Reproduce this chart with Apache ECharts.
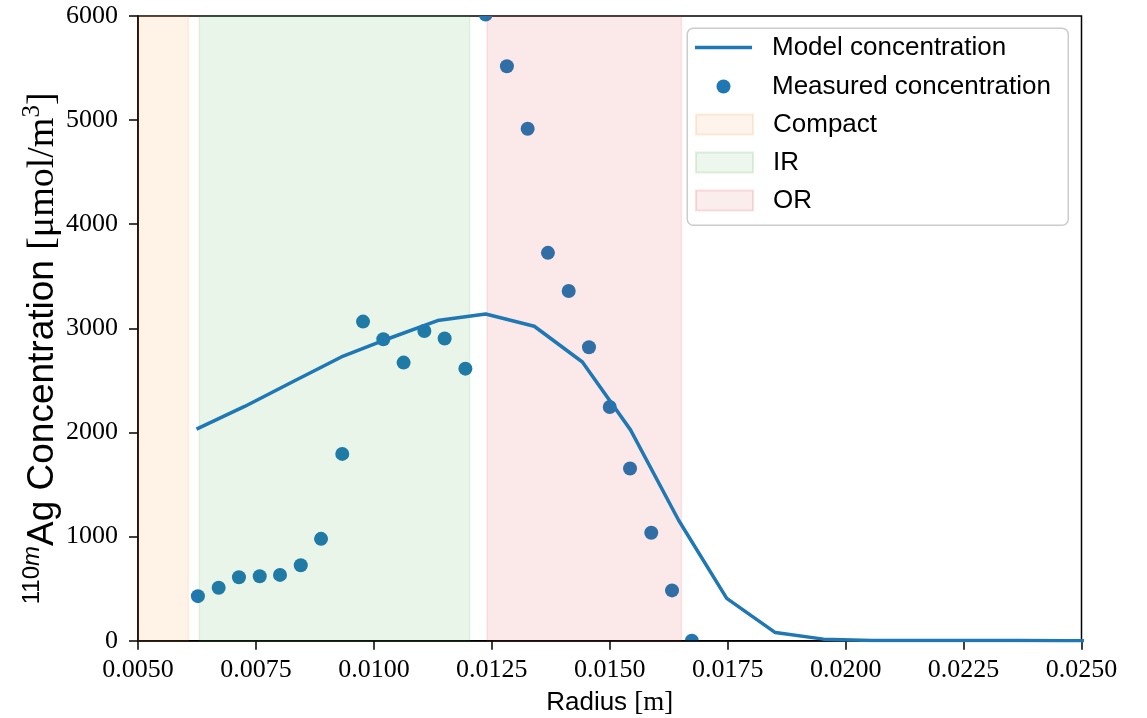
<!DOCTYPE html>
<html>
<head>
<meta charset="utf-8">
<script src="https://cdn.jsdelivr.net/npm/echarts@6/dist/echarts.min.js"></script>
<style>
  html, body { margin: 0; padding: 0; background: #ffffff; }
  #chart { width: 1147px; height: 718px; }
</style>
</head>
<body>
<div id="chart"></div>
<script>
// Measured 110mAg concentration across the pebble radius [m, µmol/m³]
const measuredRadius = [
  0.00627, 0.00671, 0.00714, 0.00758, 0.00801, 0.00845, 0.00888, 0.00933,
  0.00977, 0.01020, 0.01063, 0.01107, 0.01150, 0.01194, 0.01237, 0.01282,
  0.01326, 0.01369, 0.01413, 0.01456, 0.01500, 0.01543, 0.01588, 0.01632,
  0.01674
];
const measuredConc = [
  428, 509, 609, 619, 632, 725, 978, 1794,
  3065, 2896, 2671, 2975, 2902, 2613, 6015, 5518,
  4917, 3725, 3359, 2818, 2244, 1654, 1037, 483,
  0
];

// Model prediction on the radial mesh
const modelRadius = [
  0.00624, 0.00726, 0.00828, 0.00931, 0.01033, 0.01135, 0.01237, 0.01340,
  0.01442, 0.01544, 0.01646, 0.01748, 0.01851, 0.01953, 0.02055, 0.02157,
  0.02259, 0.02362, 0.02464, 0.02566
];
const modelConc = [
  2032, 2250, 2487, 2725, 2905, 3075, 3138, 3020,
  2677, 2025, 1157, 407, 78, 15, 3, 2,
  1, 1, 0, 0
];

// Pebble zones
const regionNames = ['Compact', 'IR', 'OR'];
const regionStart = [0.0050, 0.0063, 0.0124];
const regionEnd = [0.00607, 0.01203, 0.01652];
const regionColors = ['#ff7f0e', '#2ca02c', '#d62728'];

// Axis ticks
const xTicks = [0.0050, 0.0075, 0.0100, 0.0125, 0.0150, 0.0175, 0.0200, 0.0225, 0.0250];
const yTicks = [0, 1000, 2000, 3000, 4000, 5000, 6000];

const SANS = '"Liberation Sans", Arial, Helvetica, sans-serif';
const SERIF = '"Liberation Serif", "Times New Roman", serif';
const BLUE = '#1f77b4';

function rgba(hex, a) {
  const n = parseInt(hex.slice(1), 16);
  return 'rgba(' + ((n >> 16) & 255) + ',' + ((n >> 8) & 255) + ',' + (n & 255) + ',' + a + ')';
}

const measuredData = measuredRadius.map((r, i) => [r, measuredConc[i]]);
const modelData = modelRadius.map((r, i) => [r, modelConc[i]]);

const regionSeries = regionNames.map((name, i) => ({
  name: name,
  type: 'scatter',
  data: [],
  itemStyle: {
    color: rgba(regionColors[i], 0.1),
    borderColor: rgba(regionColors[i], 0.18),
    borderWidth: 1.5
  },
  markArea: {
    silent: true,
    itemStyle: {
      color: rgba(regionColors[i], 0.1),
      borderColor: rgba(regionColors[i], 0.1),
      borderWidth: 1.5
    },
    data: [[{ xAxis: regionStart[i] }, { xAxis: regionEnd[i] }]]
  }
}));

// Legend rows: one legend per row so each icon keeps its own size
const legendLeft = 695;
const legendRows = [
  { name: 'Model concentration', center: 47.5, w: 57, h: 3.5, icon: 'rect', left: legendLeft },
  { name: 'Measured concentration', center: 86.5, w: 57, h: 14, icon: 'circle', left: legendLeft + 21.5 },
  { name: 'Compact', center: 124.5, w: 57, h: 20, icon: 'rect', left: legendLeft },
  { name: 'IR', center: 162.5, w: 57, h: 20, icon: 'rect', left: legendLeft },
  { name: 'OR', center: 200.5, w: 57, h: 20, icon: 'rect', left: legendLeft }
];

const legends = legendRows.map(row => ({
  show: true,
  orient: 'vertical',
  left: row.left,
  top: row.center - 13,
  padding: 0,
  itemWidth: row.w,
  itemHeight: row.h,
  selectedMode: false,
  data: [{ name: row.name, icon: row.icon }],
  textStyle: {
    fontFamily: SANS,
    fontSize: 26,
    lineHeight: 26,
    color: '#000000',
    padding: [0, 0, 0, 15]
  }
}));

const option = {
  backgroundColor: '#ffffff',
  animation: false,
  grid: {
    left: 138,
    right: 65.5,
    top: 16,
    bottom: 77.3,
    show: true,
    borderColor: '#000000',
    borderWidth: 1.5,
    backgroundColor: 'transparent',
    containLabel: false,
    outerBoundsMode: 'none'
  },
  legend: legends,
  graphic: [{
    type: 'rect',
    left: 686.5,
    top: 27.5,
    shape: { width: 381, height: 197, r: 6 },
    style: { fill: 'rgba(255,255,255,0.8)', stroke: '#cccccc', lineWidth: 1.5 },
    z: -1,
    silent: true
  }],
  xAxis: {
    type: 'value',
    min: xTicks[0],
    max: xTicks[xTicks.length - 1],
    interval: xTicks[1] - xTicks[0],
    name: '{a|Radius }{b|[m]}',
    nameLocation: 'middle',
    nameGap: 49,
    nameMoveOverlap: false,
    nameTextStyle: {
      rich: {
        a: { fontFamily: SANS, fontSize: 26, color: '#000' },
        b: { fontFamily: SERIF, fontSize: 27, color: '#000' }
      }
    },
    splitLine: { show: false },
    axisLine: { show: true, onZero: false, lineStyle: { color: '#000', width: 1.5 } },
    axisTick: { show: true, inside: false, length: 9, lineStyle: { color: '#000', width: 1.5 } },
    axisLabel: {
      margin: 16,
      fontFamily: SERIF,
      fontSize: 26,
      color: '#000',
      formatter: v => v.toFixed(4)
    }
  },
  yAxis: {
    type: 'value',
    min: yTicks[0],
    max: yTicks[yTicks.length - 1],
    interval: yTicks[1] - yTicks[0],
    name: '{sup|110}{supi|m}{t|Ag Concentration }{s|[\u03bcmol/m}{s3|3}{s|]}',
    nameLocation: 'middle',
    nameRotate: 90,
    nameGap: 72,
    nameMoveOverlap: false,
    nameTextStyle: {
      padding: [0, 40, 0, 0],
      rich: {
        sup: { fontFamily: SANS, fontSize: 24, lineHeight: 22, verticalAlign: 'top', color: '#000' },
        supi: { fontFamily: SANS, fontSize: 24, fontStyle: 'italic', lineHeight: 22, verticalAlign: 'top', color: '#000' },
        t: { fontFamily: SANS, fontSize: 37, lineHeight: 46, color: '#000' },
        s: { fontFamily: SERIF, fontSize: 38, lineHeight: 46, color: '#000' },
        s3: { fontFamily: SERIF, fontSize: 25, lineHeight: 22, verticalAlign: 'top', color: '#000' }
      }
    },
    splitLine: { show: false },
    axisLine: { show: true, onZero: false, lineStyle: { color: '#000', width: 1.5 } },
    axisTick: { show: true, inside: false, length: 9, lineStyle: { color: '#000', width: 1.5 } },
    axisLabel: {
      margin: 20,
      fontFamily: SERIF,
      fontSize: 26,
      color: '#000',
      formatter: v => String(v)
    }
  },
  series: [
    {
      name: 'Measured concentration',
      type: 'custom',
      z: 0,
      clip: true,
      data: measuredData,
      encode: { x: 0, y: 1 },
      itemStyle: { color: BLUE },
      renderItem: function (params, api) {
        const p = api.coord([api.value(0), api.value(1)]);
        return {
          type: 'circle',
          shape: { cx: p[0], cy: p[1], r: 7 },
          style: { fill: BLUE }
        };
      }
    },
    ...regionSeries,
    {
      name: 'Model concentration',
      type: 'line',
      z: 3,
      data: modelData,
      symbol: 'none',
      showSymbol: false,
      clip: true,
      lineStyle: { color: BLUE, width: 3.5 },
      itemStyle: { color: BLUE }
    }
  ]
};

const chart = echarts.init(document.getElementById('chart'), null, { renderer: 'canvas' });
chart.setOption(option);
</script>
</body>
</html>
